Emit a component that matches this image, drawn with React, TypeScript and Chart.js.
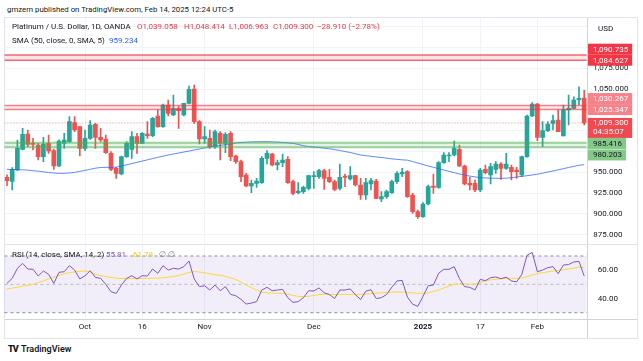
import React, { useEffect, useRef } from 'react';
import { Chart, registerables } from 'chart.js';

Chart.register(...registerables);

const FONT = 'Roboto, "DejaVu Sans", sans-serif';

// ---------- categories (trading days) ----------
const dates = [
  '2024-09-10', '2024-09-11', '2024-09-12', '2024-09-13', '2024-09-16', '2024-09-17', '2024-09-18', '2024-09-19', '2024-09-20', '2024-09-23',
  '2024-09-24', '2024-09-25', '2024-09-26', '2024-09-27', '2024-09-30', '2024-10-01', '2024-10-02', '2024-10-03', '2024-10-04', '2024-10-07',
  '2024-10-08', '2024-10-09', '2024-10-10', '2024-10-11', '2024-10-14', '2024-10-15', '2024-10-16', '2024-10-17', '2024-10-18', '2024-10-21',
  '2024-10-22', '2024-10-23', '2024-10-24', '2024-10-25', '2024-10-28', '2024-10-29', '2024-10-30', '2024-10-31', '2024-11-01', '2024-11-04',
  '2024-11-05', '2024-11-06', '2024-11-07', '2024-11-08', '2024-11-11', '2024-11-12', '2024-11-13', '2024-11-14', '2024-11-15', '2024-11-18',
  '2024-11-19', '2024-11-20', '2024-11-21', '2024-11-22', '2024-11-25', '2024-11-26', '2024-11-27', '2024-11-28', '2024-11-29', '2024-12-02',
  '2024-12-03', '2024-12-04', '2024-12-05', '2024-12-06', '2024-12-09', '2024-12-10', '2024-12-11', '2024-12-12', '2024-12-13', '2024-12-16',
  '2024-12-17', '2024-12-18', '2024-12-19', '2024-12-20', '2024-12-23', '2024-12-24', '2024-12-26', '2024-12-27', '2024-12-30', '2024-12-31',
  '2025-01-02', '2025-01-03', '2025-01-06', '2025-01-07', '2025-01-08', '2025-01-09', '2025-01-10', '2025-01-13', '2025-01-14', '2025-01-15',
  '2025-01-16', '2025-01-17', '2025-01-20', '2025-01-21', '2025-01-22', '2025-01-23', '2025-01-24', '2025-01-27', '2025-01-28', '2025-01-29',
  '2025-01-30', '2025-01-31', '2025-02-03', '2025-02-04', '2025-02-05', '2025-02-06', '2025-02-07', '2025-02-10', '2025-02-11', '2025-02-12',
  '2025-02-13', '2025-02-14',
];

// ---------- OHLC ----------
const openPrices = [
  944, 939, 953, 977.6, 996, 984.8, 982.8, 968.8, 984.8, 976,
  957.6, 984.8, 986.8, 1009.6, 1004.8, 978.8, 990.8, 1007.6, 992, 989.6,
  972.8, 954.8, 948, 968.8, 977.6, 992.8, 984.8, 996, 994, 1017.6,
  1004.8, 1030.8, 1018.8, 1026.8, 1018.8, 1032.8, 1050, 1011, 990, 990.8,
  980.8, 996.8, 984.8, 996.8, 969.6, 962.8, 946.8, 933.6, 936.8, 937.6,
  966.8, 972, 958.8, 961.6, 965.6, 938.8, 925.6, 926.8, 930.8, 944.8,
  944.8, 952, 944, 938.8, 930.8, 945.6, 942, 946, 934.8, 922.8,
  936, 939.6, 918, 920.8, 925.6, 938.8, 948, 950.8, 922.8, 902.8,
  896.8, 912, 933.6, 932, 961.6, 969.6, 970.8, 977.6, 957.6, 936.8,
  936.8, 928.8, 953.6, 946.8, 953.6, 960, 954.8, 956, 952.8, 946.8,
  968.8, 1017.6, 1032, 992, 1000, 1008.8, 1012.8, 993.6, 1024.8, 1026.8,
  1036.8, 1039.058,
];
const highPrices = [
  947, 955.6, 988.8, 1002.8, 1000.8, 990.8, 984.8, 992, 994.8, 978,
  989, 996.8, 1016.8, 1016.8, 1005, 1000.8, 1012, 1008.8, 1002.8, 994.8,
  975, 956, 969.6, 986.8, 998.8, 996.8, 997.6, 1010.8, 1016, 1024.8,
  1032, 1036.8, 1042.8, 1028.8, 1032.8, 1053.6, 1054.8, 1012, 1004.8, 1000.8,
  1000.8, 998.8, 997.6, 998.8, 970.8, 964.8, 948.8, 940.8, 942.8, 968.8,
  976, 972.8, 964.8, 972, 968.8, 940.8, 937.6, 933.6, 946.8, 950.8,
  953.6, 953.6, 953.6, 940.8, 960, 948, 956.8, 946.8, 942.8, 942.8,
  942.8, 941.6, 926.8, 928.8, 940.8, 950.8, 954.8, 952, 924.8, 904.8,
  913.6, 934.8, 948, 962.8, 973.6, 973.6, 987.6, 982.8, 958.8, 944,
  940.8, 954.8, 958.8, 960.8, 962.8, 961.6, 972.8, 958.8, 956, 969.6,
  1018.8, 1033.6, 1032.8, 1010.8, 1010.8, 1018.8, 1024.8, 1030.8, 1042.8, 1040.8,
  1052.8, 1048.414,
];
const lowPrices = [
  934, 928.8, 952, 976.8, 980.8, 976.8, 964.8, 962.8, 972.8, 953.6,
  956.8, 978.8, 986, 998.8, 969.6, 976, 989.6, 978.8, 986.8, 972.8,
  952, 942.8, 946.8, 968, 966.8, 972.8, 984.8, 990.8, 992.8, 1004,
  1004, 1017.6, 1018, 1002.8, 1017.6, 1032, 1008.8, 984, 984.8, 978.8,
  978.8, 964.8, 973.6, 964, 960.8, 938.8, 932.8, 925.6, 932, 936.8,
  960, 957.6, 952.8, 956.8, 936.8, 922.8, 924, 924.8, 928.8, 930.8,
  942.8, 929.6, 937.6, 928, 928.8, 932.8, 940.8, 933.6, 917.6, 917.6,
  928.8, 918.4, 914.8, 918.8, 924.8, 936.8, 944.8, 920, 900.8, 894.8,
  896, 910.8, 924.8, 930.8, 960.8, 962.8, 969.6, 956.8, 934.8, 928.8,
  926.8, 926.8, 948, 936, 948.8, 941.6, 953.6, 940.8, 942.8, 944.8,
  968, 1016.8, 988, 980.8, 998.8, 1000.8, 998.8, 993.6, 1006.8, 1026.4,
  1030.8, 1006.963,
];
const closePrices = [
  940, 953.6, 978.8, 995.6, 983.6, 983.6, 968.8, 984, 975.6, 957.6,
  987.6, 988.8, 1010.8, 1000.8, 978.8, 990.8, 1006.8, 992, 988.8, 973.6,
  953.6, 948.8, 968.8, 984.8, 992.8, 984.8, 996.8, 994, 1014.8, 1004.8,
  1030.8, 1020.8, 1026.8, 1024, 1032.8, 1049.6, 1010.8, 990, 992.8, 980.8,
  998.8, 984.8, 995.6, 968.8, 962.8, 944.8, 933.6, 936.8, 939.6, 966.8,
  972.8, 958.8, 961.6, 964.8, 937.6, 924.8, 927.6, 932, 946, 946,
  952, 942.8, 938.8, 929.6, 944, 944, 946, 934.8, 922.8, 937.6,
  940, 918.8, 920.8, 926.8, 938.8, 948.8, 950, 920.8, 902.8, 896.8,
  912, 932.8, 932, 961.6, 970.8, 970.8, 978.8, 957.6, 936, 934.8,
  928.8, 952.8, 949.6, 956.8, 960, 954.8, 960, 950.8, 950.8, 968.8,
  1017.6, 1032, 992, 1000, 1008, 1012, 998.8, 1025.6, 1026.8, 1036.8,
  1038.8, 1009.3,
];

// ---------- SMA 50 ----------
const sma50 = [
  953.6, 953.4, 953.2, 953, 952.6, 952, 951.4, 950.6, 949.8, 949.2,
  948.8, 948.8, 949.2, 950, 951.2, 952.4, 953.6, 955, 955.8, 956,
  956, 956.2, 957.5, 959, 960.5, 962, 963.5, 965, 966.5, 968,
  969.4, 970.8, 972, 973.2, 974.4, 975.5, 976.8, 978, 979.2, 980.4,
  981.5, 982.4, 983.3, 984.2, 985.2, 985.8, 986.2, 986.5, 986.7, 986.8,
  986.8, 986.6, 986.3, 985.9, 985.4, 984.8, 983.5, 982, 981, 980.4,
  979.8, 979, 978.3, 977.3, 976.2, 975, 973.8, 972.4, 970.8, 970,
  969.2, 968.5, 967.8, 967, 966.2, 965.6, 965, 964.6, 963, 961.2,
  959.4, 957.6, 956, 954.4, 952.8, 951.2, 949.6, 948, 946.8, 945.5,
  944.5, 943.6, 943.2, 943, 942.8, 942.8, 943, 943.5, 944.4, 945.2,
  946, 946.8, 947.8, 949, 950.4, 951.6, 953, 954.4, 955.8, 957.2,
  958.5, 959.234,
];

// ---------- RSI 14 and its SMA ----------
const rsi14 = [
  50.7, 54.2, 61.3, 64.8, 60.8, 60.6, 55.9, 59.4, 57.1, 50.7,
  58.5, 58.9, 63.2, 60.1, 53.8, 56.1, 59.6, 54.9, 54.2, 50,
  44.8, 43.6, 49.5, 54.2, 56.1, 53.8, 56.1, 55.9, 60.8, 57.8,
  63.2, 60.1, 61.3, 60.8, 62.5, 66.5, 53.8, 48.4, 49, 46,
  49.5, 45.5, 48.4, 42.9, 42, 39.4, 36.1, 36.8, 37.8, 46,
  47.9, 45.5, 46, 46.5, 40.6, 37.3, 37.8, 40.6, 45.5, 45.3,
  47.5, 44, 42.8, 40, 46, 46, 46.8, 42.7, 39.3, 45.2,
  46.2, 40, 40.6, 42.8, 48, 52.4, 52.8, 41, 36, 34.5,
  41.5, 49, 49.5, 57.8, 60.6, 60.6, 62.5, 54.2, 48.4, 47.9,
  46, 53.5, 52.6, 54.7, 55.2, 54, 55, 52.4, 51.8, 57,
  70.5, 72.5, 58.9, 60.1, 61.8, 62.5, 57.5, 63.6, 64, 65.8,
  66.2, 55.81,
];
const rsiMa = [
  46.7, 47.3, 48, 48.7, 49.3, 50, 51.2, 52.5, 53.8, 55,
  56.3, 57.5, 58.3, 58.8, 59.2, 59.4, 58.8, 57.2, 56.2, 55.5,
  54.8, 54.3, 54.1, 54, 54.1, 54.2, 54.2, 54.2, 54.3, 54.4,
  54.6, 55, 55.6, 56.2, 57.2, 58.5, 59, 58.7, 58.2, 57.4,
  56.9, 56.4, 55.6, 54.6, 53.4, 51.6, 49.6, 47.6, 46, 44.5,
  44, 43.9, 43.8, 43.6, 43.1, 42.2, 41.5, 41.3, 41.6, 42.2,
  42.8, 43, 43, 42.9, 42.9, 42.9, 42.9, 42.9, 43, 43.2,
  43.5, 43.7, 44, 44.3, 44.5, 44.6, 44.6, 44.3, 44, 43.7,
  43.6, 44, 45, 46, 47.4, 48.8, 50, 50.4, 50.3, 50,
  50.3, 51.2, 52.4, 53.2, 53.6, 53.9, 54.2, 54.2, 54.2, 54.4,
  55.4, 56.6, 57.6, 58.2, 58.8, 59.4, 59.8, 60.3, 60.9, 61.5,
  62.1, 61.78,
];

// ---------- levels, ticks ----------
const resistanceLevels = [1090.735, 1084.627, 1030.267, 1025.347];
const supportLevels = [985.416, 980.203];
const lastPrice = 1009.3;
const countdown = '04:35:07';
const priceTicks = [875, 900, 925, 950, 975, 1000, 1025, 1050, 1075, 1100, 1125];
const shownPriceTicks = [875, 900, 925, 950, 1050, 1075];
const rsiTicks = [40, 60];
const rsiLevels = [70, 50, 30];
const timeTicks: Record<string, string> = {
  '2024-10-01': 'Oct', '2024-10-16': '16', '2024-11-01': 'Nov', '2024-12-02': 'Dec',
  '2025-01-02': '2025', '2025-01-17': '17', '2025-02-03': 'Feb',
};

const UP = '#26a69a';
const DOWN = '#ef5350';
const TEXT = '#131722';
const GRID = '#f0f3fa';
const AXIS_W = 56.2;
const PAD_L = 4.4;

const fmtPrice = (v: number) =>
  v.toLocaleString('en-US', { minimumFractionDigits: 3, maximumFractionDigits: 3 });

const gridColorX = (c: any) => {
  const i = c.tick ? c.tick.value : c.index;
  return timeTicks[dates[i]] ? GRID : 'rgba(0,0,0,0)';
};

const fitRightAxis = (s: any) => {
  s.width = AXIS_W;
  s.paddingTop = 0;
  s.paddingBottom = 0;
};

const mainOverlay = {
  id: 'mainOverlay',
  afterDatasetsDraw(chart: any) {
    const { ctx, chartArea: a } = chart;
    const y = chart.scales.y;
    ctx.save();
    ctx.beginPath();
    ctx.rect(a.left, a.top, a.right - a.left, a.bottom - a.top);
    ctx.clip();
    const band = (hi: number, lo: number, fill: string, stroke: string, lw: number) => {
      const y1 = y.getPixelForValue(hi);
      const y2 = y.getPixelForValue(lo);
      ctx.fillStyle = fill;
      ctx.fillRect(a.left, y1, a.right - a.left, y2 - y1);
      ctx.strokeStyle = stroke;
      ctx.lineWidth = lw;
      [y1, y2].forEach((yy) => {
        ctx.beginPath();
        ctx.moveTo(a.left, yy);
        ctx.lineTo(a.right, yy);
        ctx.stroke();
      });
    };
    band(resistanceLevels[0], resistanceLevels[1], 'rgba(242,54,69,0.12)', 'rgba(242,54,69,0.75)', 1.5);
    band(resistanceLevels[2], resistanceLevels[3], 'rgba(242,54,69,0.12)', 'rgba(242,54,69,0.6)', 1.5);
    band(supportLevels[0], supportLevels[1], 'rgba(76,175,80,0.15)', 'rgba(76,175,80,0.55)', 2);
    const yl = y.getPixelForValue(lastPrice);
    ctx.setLineDash([1, 2]);
    ctx.strokeStyle = 'rgba(242,54,69,0.6)';
    ctx.lineWidth = 1;
    ctx.beginPath();
    ctx.moveTo(a.left, yl);
    ctx.lineTo(a.right, yl);
    ctx.stroke();
    ctx.restore();
  },
  afterDraw(chart: any) {
    const { ctx, chartArea: a } = chart;
    const y = chart.scales.y;
    const x0 = a.right + 1.2;
    const H = 11;
    ctx.save();
    ctx.font = `8px ${FONT}`;
    ctx.textBaseline = 'middle';
    const box = (text: string, yc: number, bg: string, fg: string) => {
      const w = ctx.measureText(text).width + 9;
      ctx.fillStyle = bg;
      ctx.fillRect(x0, yc - H / 2, w, H);
      ctx.fillStyle = fg;
      ctx.fillText(text, x0 + 5, yc + 0.5);
    };
    // top resistance pair
    const yB1 = y.getPixelForValue(resistanceLevels[1]);
    const yA1 = Math.min(y.getPixelForValue(resistanceLevels[0]), yB1 - H);
    box(fmtPrice(resistanceLevels[0]), yA1, '#f23645', '#ffffff');
    box(fmtPrice(resistanceLevels[1]), yB1, '#f23645', '#ffffff');
    // middle resistance pair
    const yB2 = y.getPixelForValue(resistanceLevels[3]);
    const yA2 = Math.min(y.getPixelForValue(resistanceLevels[2]), yB2 - H);
    box(fmtPrice(resistanceLevels[2]), yA2, '#f6828a', '#ffffff');
    box(fmtPrice(resistanceLevels[3]), yB2, '#f6828a', '#ffffff');
    // last price
    const yl = y.getPixelForValue(lastPrice);
    const tw = ctx.measureText(fmtPrice(lastPrice)).width + 9;
    ctx.fillStyle = '#f04a50';
    ctx.fillRect(x0, yl - 5, tw, 20);
    ctx.fillStyle = '#ffffff';
    ctx.fillText(fmtPrice(lastPrice), x0 + 5, yl + 0.5);
    ctx.fillText(countdown, x0 + 5, yl + 9.5);
    // support pair
    const yS1 = Math.max(y.getPixelForValue(supportLevels[0]), yl + 15 + H / 2);
    const yS2 = Math.max(y.getPixelForValue(supportLevels[1]), yS1 + H + 0.5);
    box(fmtPrice(supportLevels[0]), yS1, '#85c988', TEXT);
    box(fmtPrice(supportLevels[1]), yS2, '#85c988', TEXT);
    // currency
    ctx.fillStyle = TEXT;
    ctx.fillText('USD', x0 + 10, 12);
    ctx.restore();
  },
};

const rsiOverlay = {
  id: 'rsiOverlay',
  beforeDatasetsDraw(chart: any) {
    const { ctx, chartArea: a } = chart;
    const y = chart.scales.y;
    const y70 = y.getPixelForValue(rsiLevels[0]);
    const y50 = y.getPixelForValue(rsiLevels[1]);
    const y30 = y.getPixelForValue(rsiLevels[2]);
    ctx.save();
    ctx.fillStyle = 'rgba(126,87,194,0.1)';
    ctx.fillRect(a.left, y70, a.right - a.left, y30 - y70);
    ctx.lineWidth = 1;
    ctx.setLineDash([3, 3]);
    ctx.strokeStyle = 'rgba(120,123,134,0.85)';
    [y70, y30].forEach((yy) => {
      ctx.beginPath();
      ctx.moveTo(a.left, yy);
      ctx.lineTo(a.right, yy);
      ctx.stroke();
    });
    ctx.strokeStyle = 'rgba(120,123,134,0.45)';
    ctx.beginPath();
    ctx.moveTo(a.left, y50);
    ctx.lineTo(a.right, y50);
    ctx.stroke();
    ctx.restore();
  },
};

export default function App() {
  const mainRef = useRef<HTMLCanvasElement>(null);
  const rsiRef = useRef<HTMLCanvasElement>(null);

  useEffect(() => {
    const bodies = openPrices.map((o, i) => [o, closePrices[i]]);
    const wicks = lowPrices.map((l, i) => [l, highPrices[i]]);
    const colors = openPrices.map((o, i) => (closePrices[i] >= o ? UP : DOWN));

    const main = new Chart(mainRef.current as HTMLCanvasElement, {
      type: 'bar',
      data: {
        labels: dates,
        datasets: [
          {
            type: 'line',
            data: sma50,
            borderColor: 'rgba(41,98,255,0.75)',
            borderWidth: 1,
            pointRadius: 0,
            order: 0,
          } as any,
          {
            type: 'bar',
            data: bodies as any,
            backgroundColor: colors,
            barThickness: 4,
            grouped: false,
            minBarLength: 1,
            borderWidth: 0,
            order: 1,
          },
          {
            type: 'bar',
            data: wicks as any,
            backgroundColor: colors,
            barThickness: 1,
            grouped: false,
            borderWidth: 0,
            order: 2,
          },
        ],
      },
      options: {
        animation: false,
        responsive: false,
        maintainAspectRatio: false,
        events: [],
        layout: { autoPadding: false, padding: { left: PAD_L, right: 0, top: 1, bottom: 1 } },
        plugins: { legend: { display: false }, tooltip: { enabled: false } },
        scales: {
          x: {
            offset: true,
            grid: { offset: false, drawTicks: false, color: gridColorX },
            border: { display: false },
            ticks: { display: false, autoSkip: false },
            afterFit: (s: any) => { s.height = 0; s.paddingLeft = 0; s.paddingRight = 0; },
          },
          y: {
            position: 'right',
            min: 865.15,
            max: 1135.3,
            afterBuildTicks: (s: any) => { s.ticks = priceTicks.map((v) => ({ value: v })); },
            ticks: {
              padding: 6.5,
              color: TEXT,
              font: { family: FONT, size: 8 },
              callback: (v: any) => (shownPriceTicks.includes(Number(v)) ? fmtPrice(Number(v)) : ''),
            },
            grid: { color: GRID, drawTicks: false },
            border: { display: false },
            afterFit: fitRightAxis,
          },
        },
      } as any,
      plugins: [mainOverlay],
    });

    const rsi = new Chart(rsiRef.current as HTMLCanvasElement, {
      type: 'line',
      data: {
        labels: dates,
        datasets: [
          { data: rsi14, borderColor: '#7e57c2', borderWidth: 1, pointRadius: 0, order: 0 },
          { data: rsiMa, borderColor: '#fdd835', borderWidth: 1, pointRadius: 0, order: 1 },
        ],
      },
      options: {
        animation: false,
        responsive: false,
        maintainAspectRatio: false,
        events: [],
        layout: { autoPadding: false, padding: { left: PAD_L, right: 0, top: 1, bottom: 0 } },
        plugins: { legend: { display: false }, tooltip: { enabled: false } },
        scales: {
          x: {
            offset: true,
            grid: { offset: false, drawTicks: false, color: gridColorX },
            border: { display: false },
            ticks: {
              autoSkip: false,
              maxRotation: 0,
              padding: 3,
              color: TEXT,
              font: (c: any) => ({
                family: FONT,
                size: 8,
                weight: c.tick && c.tick.label === '2025' ? 'bold' : 'normal',
              }),
              callback: (_v: any, i: number) => timeTicks[dates[i]] || '',
            },
            afterFit: (s: any) => { s.height = 21; s.paddingLeft = 0; s.paddingRight = 0; },
          },
          y: {
            position: 'right',
            min: 25.56,
            max: 77.76,
            afterBuildTicks: (s: any) => { s.ticks = rsiTicks.map((v) => ({ value: v })); },
            ticks: {
              padding: 11,
              color: TEXT,
              font: { family: FONT, size: 8 },
              callback: (v: any) => Number(v).toFixed(2),
            },
            grid: { color: 'rgba(0,0,0,0)', drawTicks: false },
            border: { display: false },
            afterFit: fitRightAxis,
          },
        },
      } as any,
      plugins: [rsiOverlay],
    });

    return () => {
      main.destroy();
      rsi.destroy();
    };
  }, []);

  const txt = (left: number, top: number, color: string, s: string, extra: any = {}) => (
    <span
      style={{
        position: 'absolute', left, top, color, whiteSpace: 'nowrap',
        fontFamily: FONT, fontSize: 8, lineHeight: '10px', ...extra,
      }}
    >
      {s}
    </span>
  );

  return (
    <div style={{ position: 'fixed', left: 0, top: 0, width: 643, height: 361, background: '#ffffff', overflow: 'hidden' }}>
      {txt(7, 5, TEXT, 'gmzern published on TradingView.com, Feb 14, 2025 12:24 UTC-5', { fontSize: 7.8 })}
      <div style={{ position: 'absolute', left: 4, top: 17, width: 632, height: 320, border: '1px solid #e0e3eb' }} />
      <div style={{ position: 'absolute', left: 587, top: 18, width: 1, height: 320, background: '#d1d4dc' }} />
      <div style={{ position: 'absolute', left: 5, top: 244, width: 632, height: 1, background: '#e0e3eb' }} />
      <div style={{ position: 'absolute', left: 5, top: 319, width: 632, height: 1, background: '#d1d4dc' }} />
      <canvas ref={mainRef} width={643} height={227} style={{ position: 'absolute', left: 0, top: 17, width: 643, height: 227 }} />
      <canvas ref={rsiRef} width={643} height={96} style={{ position: 'absolute', left: 0, top: 244, width: 643, height: 96 }} />
      {txt(12, 22, TEXT, 'Platinum / U.S. Dollar, 1D, OANDA')}
      {txt(137, 22, '#f23645', 'O1,039.058')}
      {txt(184, 22, '#f23645', 'H1,048.414')}
      {txt(229, 22, '#f23645', 'L1,006.963')}
      {txt(273, 22, '#f23645', 'C1,009.300')}
      {txt(317, 22, '#f23645', '\u221228.910 (\u22122.78%)')}
      {txt(12, 36, TEXT, 'SMA (50, close, 0, SMA, 5)')}
      {txt(109, 36, '#2962ff', '959.234')}
      {txt(12, 250, TEXT, 'RSI (14, close, SMA, 14, 2)')}
      {txt(106, 250, '#7e57c2', '55.81')}
      {txt(133, 250, '#f2c81e', '61.78')}
      {txt(159, 250, '#787b86', '\u2205 \u2205')}
      <span style={{ position: 'absolute', left: 8, top: 344, fontFamily: FONT, fontSize: 9, fontWeight: 900, letterSpacing: -1, color: TEXT, lineHeight: '10px' }}>TV</span>
      {txt(21, 344, TEXT, 'TradingView', { fontSize: 9, fontWeight: 600 })}
    </div>
  );
}
